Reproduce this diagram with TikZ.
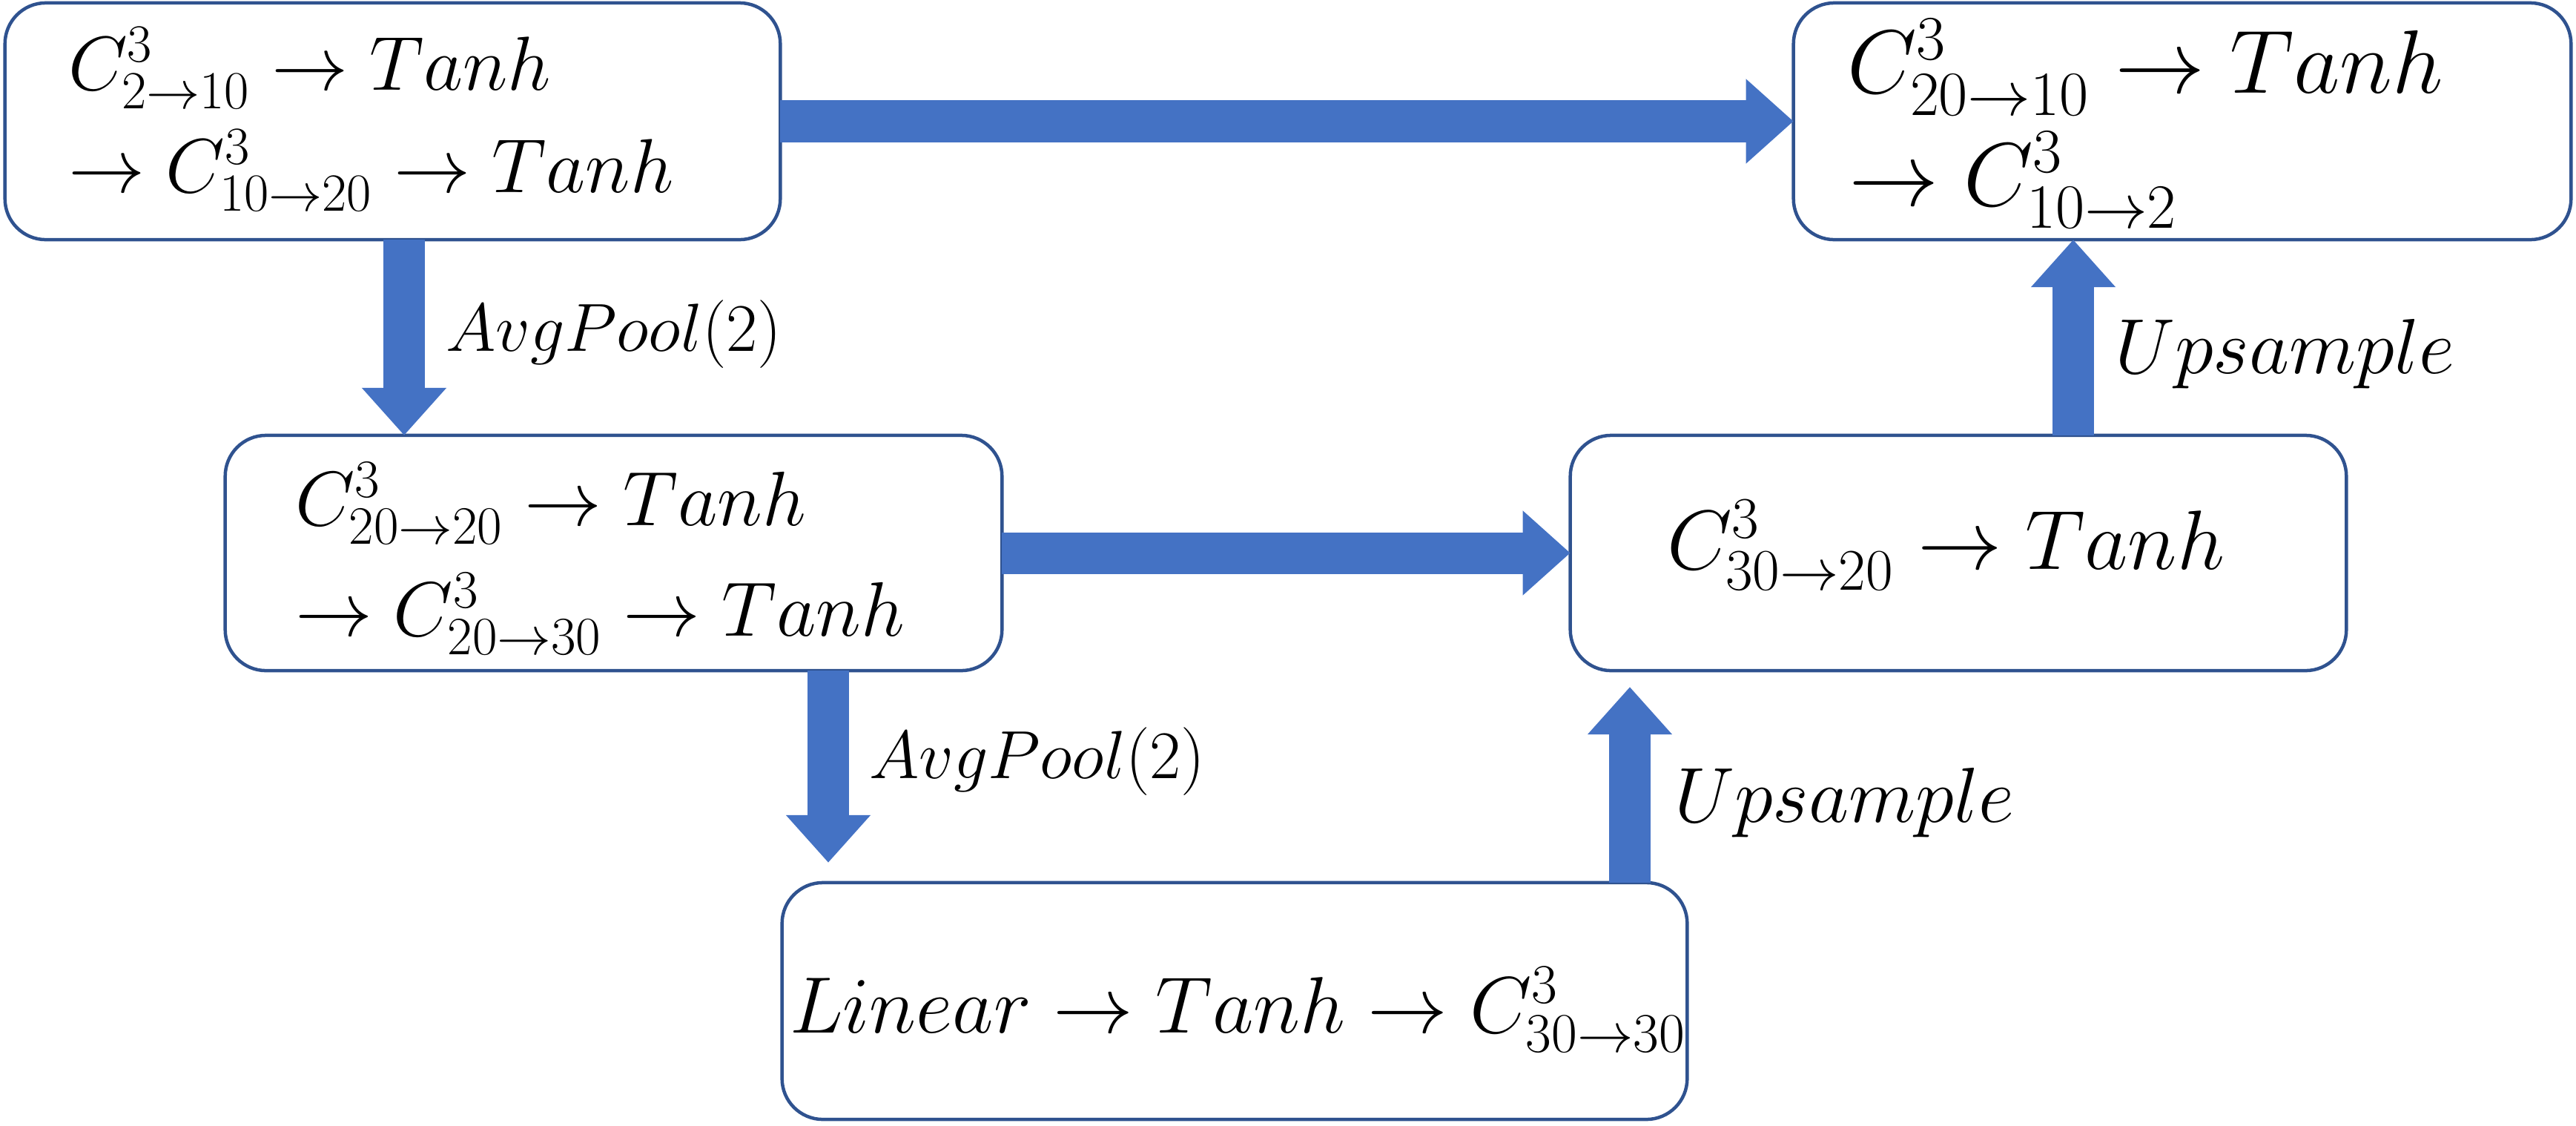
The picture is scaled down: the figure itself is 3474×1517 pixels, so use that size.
\RequirePackage{fix-cm}
\documentclass[tikz,border=0pt]{standalone}
\usetikzlibrary{arrows.meta}
\definecolor{arrowblue}{HTML}{4472C4}
\definecolor{boxblue}{HTML}{2F528F}
\tikzset{
 box/.style={draw=boxblue, line width=0.045cm, rounded corners=0.55cm, fill=white, inner sep=0pt, outer sep=0pt},
 bigarrow/.style={draw=arrowblue, line width=0.56cm, -{Triangle[width=1.1cm,length=0.64cm]}},
 txt/.style={anchor=base west, inner sep=0pt, outer sep=0pt},
}
\newlength\natw
% #1 macro to receive font size, #2 target width, #3 math content
\newcommand\fitsize[3]{%
  \settowidth{\natw}{\fontsize{30}{36}\selectfont$#3$}%
  \pgfmathsetmacro#1{30*#2/\natw}%
}
\newcommand\fsz[1]{\fontsize{#1}{#1}\selectfont}
\begin{document}
\begin{tikzpicture}[x=0.01cm,y=-0.01cm]
\fitsize{\fsA}{8.16cm}{\to C^3_{10\to20}\to Tanh}
\fitsize{\fsB}{8.04cm}{C^3_{20\to10}\to Tanh}
\fitsize{\fsC}{8.22cm}{\to C^3_{20\to30}\to Tanh}
\fitsize{\fsD}{7.52cm}{C^3_{30\to20}\to Tanh}
\fitsize{\fsE}{12.08cm}{Linear\to Tanh\to C^3_{30\to30}}
\fitsize{\fsP}{4.53cm}{AvgPool(2)}
\fitsize{\fsU}{4.58cm}{Upsample}
\useasboundingbox (0,0) rectangle (3474,1517);
% boxes
\node[box, minimum width=10.45cm, minimum height=3.19cm] (A) at (529.5,163.5) {};
\node[box, minimum width=10.48cm, minimum height=3.19cm] (B) at (2943,163.5) {};
\node[box, minimum width=10.47cm, minimum height=3.17cm] (C) at (827.5,745.5) {};
\node[box, minimum width=10.46cm, minimum height=3.17cm] (D) at (2641,745.5) {};
\node[box, minimum width=12.20cm, minimum height=3.19cm] (E) at (1665,1349.5) {};
% texts
\node[txt, font=\fsz{\fsA}] (a1) at (92,121) {$C^3_{2\to10}\to Tanh$};
\node[txt, font=\fsz{\fsA}] (a2) at (92,259) {$\to C^3_{10\to20}\to Tanh$};
\node[txt, font=\fsz{\fsB}] (b1) at (2491,125) {$C^3_{20\to10}\to Tanh$};
\node[txt, font=\fsz{\fsB}] (b2) at (2493,277) {$\to C^3_{10\to2}$};
\node[txt, font=\fsz{\fsC}] (c1) at (398,708) {$C^3_{20\to20}\to Tanh$};
\node[txt, font=\fsz{\fsC}] (c2) at (398,857) {$\to C^3_{20\to30}\to Tanh$};
\node[txt, font=\fsz{\fsD}] (d1) at (2248,767) {$C^3_{30\to20}\to Tanh$};
\node[txt, font=\fsz{\fsE}] (e1) at (1065,1392) {$Linear\to Tanh\to C^3_{30\to30}$};
% arrows
\coordinate (xac) at (545,0);
\coordinate (xce) at (1117,0);
\coordinate (xed) at (2198,0);
\coordinate (xdb) at (2796,0);
\draw[bigarrow] (A.east) -- (B.west);
\draw[bigarrow] (A.south -| xac) -- (C.north -| xac);
\draw[bigarrow] (C.east) -- (D.west);
\draw[bigarrow, shorten >=0.27cm] (C.south -| xce) -- (E.north -| xce);
\draw[bigarrow, shorten >=0.22cm] (E.north -| xed) -- (D.south -| xed);
\draw[bigarrow] (D.north -| xdb) -- (B.south -| xdb);
% labels
\node[txt, font=\fsz{\fsP}] (l1) at (601,473) {$AvgPool(2)$};
\node[txt, font=\fsz{\fsP}] (l2) at (1172,1049) {$AvgPool(2)$};
\node[txt, font=\fsz{\fsU}] (u1) at (2258,1108) {$Upsample$};
\node[txt, font=\fsz{\fsU}] (u2) at (2852,503) {$Upsample$};
\end{tikzpicture}
\end{document}
